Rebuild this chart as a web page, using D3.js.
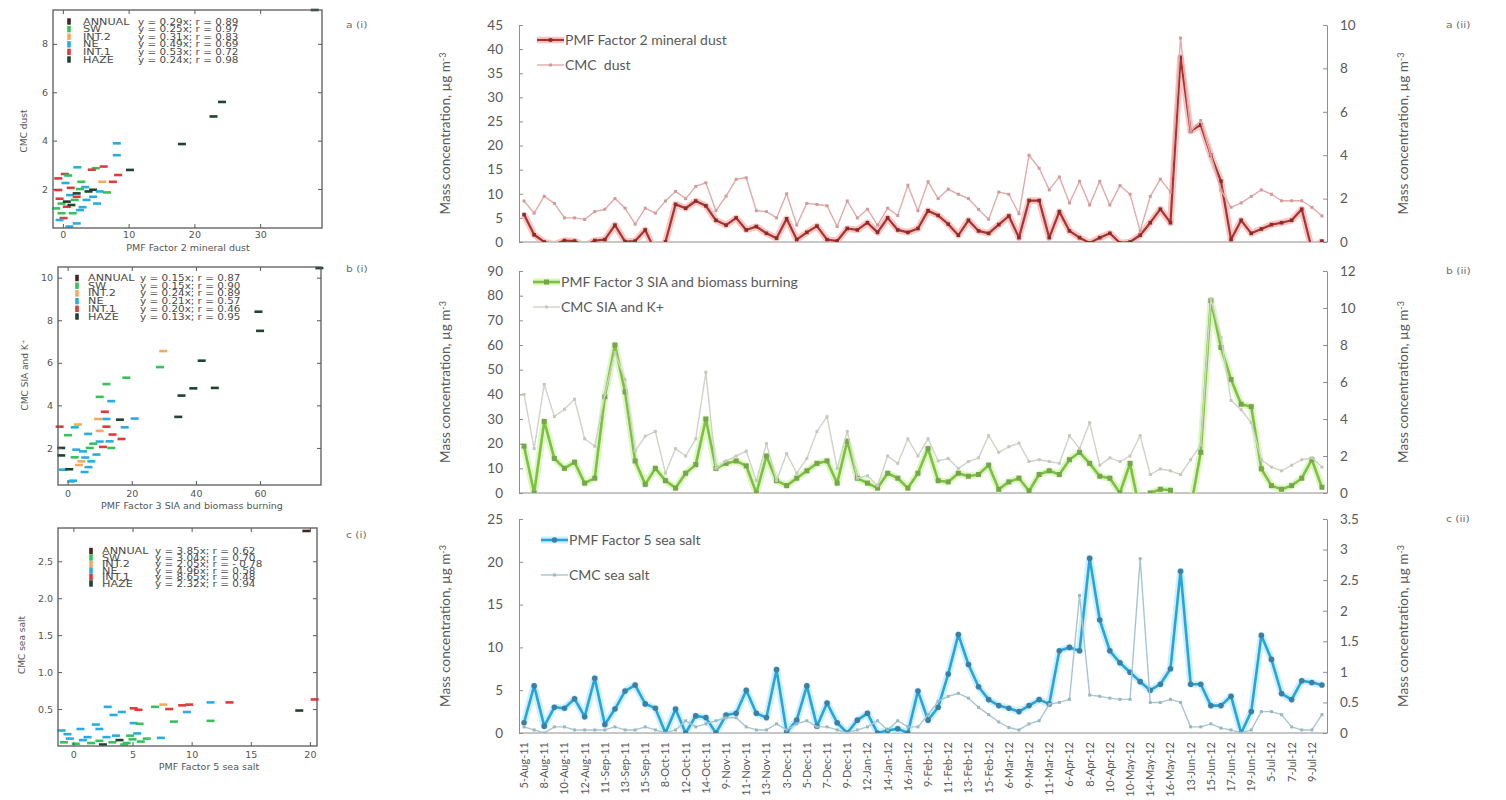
<!DOCTYPE html>
<html>
<head>
<meta charset="utf-8">
<title>PMF factors and CMC components</title>
<script src="https://cdn.jsdelivr.net/npm/d3@7/dist/d3.min.js"></script>
<style>
  html, body { margin: 0; padding: 0; background: #ffffff; }
  svg { display: block; }
</style>
</head>
<body>
<svg id="chart" width="1506" height="800"></svg>
<script>
// ---------- category axis: every second sample carries a date label ----------
const sampleLabels = ["5-Aug-11","8-Aug-11","10-Aug-11","12-Aug-11","11-Sep-11","13-Sep-11","15-Sep-11",
  "8-Oct-11","12-Oct-11","14-Oct-11","9-Nov-11","11-Nov-11","13-Nov-11","3-Dec-11","5-Dec-11","7-Dec-11",
  "9-Dec-11","12-Jan-12","14-Jan-12","16-Jan-12","9-Feb-12","11-Feb-12","13-Feb-12","15-Feb-12","6-Mar-12",
  "9-Mar-12","11-Mar-12","6-Apr-12","8-Apr-12","10-Apr-12","10-May-12","14-May-12","16-May-12","13-Jun-12",
  "15-Jun-12","17-Jun-12","19-Jun-12","5-Jul-12","7-Jul-12","9-Jul-12"];

// ---------- time series (PMF on left axis, CMC on right axis), µg m-3 ----------
const dustPMF = [5.7,1.5,0,-0.5,0.3,0.2,-0.8,0.3,0.5,3.5, 0.1,0.2,2.5,-2,0,7.8,7,8.5,7.5,4.5,
  3.5,5,2.5,3.2,1.8,0.8,4.8,0.5,2,3.3, 0.5,0.2,2.8,2.5,4,2,5,2.5,2,2.8, 6.5,5.5,3.7,1.4,
  4.5,2.3,1.8,3.6,5.4,0.9,8.6,8.6,0.9,6.3, 2.3,0.9,-0.2,0.9,1.8,-0.2,0,1.4,4,6.8,
  4,38.3,23,24.3,18,12.6,0.5,4.5,1.8,2.7, 3.6,4,4.5,6.8,-1.5,0.2];
const dustCMC = [1.89,1.33,2.11,1.78,1.11,1.11,1.04,1.4,1.51,2.0, 1.56,0.82,1.56,1.33,1.89,2.33,2.0,2.56,2.73,1.44,
  2.11,2.89,2.96,1.44,1.4,1.11,2.22,0.78,1.78,1.73, 1.67,0.71,1.89,1.11,1.51,0.78,1.56,1.22,2.62,1.44,
  2.78,2.0,2.44,2.2, 2.0,1.5,1.05,2.3,2.2,1.3,4.0,3.4,2.4,3.0, 1.8,2.8,1.7,2.8,1.7,2.6,2.2,0.5,2.1,2.9,
  2.3,9.4,5.1,5.6,4.0,2.4,1.6,1.8,2.1,2.4, 2.2,1.9,1.9,1.9,1.6,1.2];

const siaPMF = [19,0,29,14,10,12.5,4,6,39,60, 41,13,3.5,10,5,2,8,11.5,30,10, 12,13,11,0,15,5,3,6,9,12,
  13,4,21,6,4,2,8,6,2,8, 18,5,4.5,8, 6.8,7.5,11.3,1.5,4.5,6,0.8,7.5,9,7.5, 13.5,16.5,12,6.8,6,0,12,-8,0,1.5,
  1.1,-10,-6,16.5,78,59,46,36,35,9.8, 3,1.5,3,6,13.5,2.3];
const siaCMC = [5.33,2.4,5.87,4.13,4.53,5.07,2.93,2.53,5.33,7.6, 6.13,2.27,3.07,3.33,1.07,2.4,2.0,2.93,6.53,1.33,
  1.73,2.0,2.27,0.67,2.67,0.67,2.13,1.07,1.87,3.33, 4.13,1.33,3.33,0.8,0.93,0.4,2.0,1.6,2.93,2.0,
  2.93,1.73,1.87,1.33, 1.7,1.9,3.1,2.2,2.5,2.7,1.7,1.8,1.7,1.6, 3.1,2.4,3.8,1.5,1.9,1.7,2.0,3.1,1.0,1.3,
  1.2,1.0,1.8,2.6,10.5,8.4,5.0,4.5,3.8,1.8, 1.4,1.2,1.5,1.8,1.9,1.4];

const saltPMF = [1.2,5.5,0.8,3,2.9,4,1.9,6.4,1,2.8, 4.9,5.6,3.4,2.9,0,2.8,0,2,1.8,0,
  2.1,2.3,5,2.3,1.8,7.4,0.1,1.5,5.5,0.8, 3.5,1.2,0,1.5,2.3,0,0.3,0.5,0,4.9,
  1.5,3,6.9,11.5,8,5.4,3.9,3.2,2.9,2.5, 3.2,3.9,3.4,9.6,10,9.6,20.4,13.2,9.6,8.2,
  7.1,6,5,5.7,7.5,18.9,5.7,5.7,3.2,3.2, 4.3,0,2.5,11.4,8.6,4.6,3.9,6.1,5.9,5.6];
const saltCMC = [0.1,0.05,0.0,0.1,0.1,0.05,0.05,0.05,0.05,0.1, 0.05,0.05,0.1,0.05,0.0,0.05,0.2,0.1,0.15,0.2,
  0.25,0.25,0.1,0.05,0.05,0.15,0.05,0.15,0.2,0.1, 0.1,0.05,0.0,0.05,0.1,0.2,0.05,0.2,0.1,0.1,
  0.3,0.52,0.6,0.65,0.57,0.42,0.3,0.18,0.09,0.05, 0.15,0.2,0.47,0.5,0.55,2.25,0.62,0.6,0.57,0.55,
  0.55,2.85,0.5,0.5,0.55,0.5,0.1,0.1,0.15,0.08, 0.05,0.0,0.05,0.35,0.35,0.3,0.1,0.05,0.05,0.3];

// axis ticks of the time-series panels
const dustLeftTicks = [0,5,10,15,20,25,30,35,40,45];
const dustRightTicks = [0,2,4,6,8,10];
const siaLeftTicks = [0,10,20,30,40,50,60,70,80,90];
const siaRightTicks = [0,2,4,6,8,10,12];
const saltLeftTicks = [0,5,10,15,20,25];
const saltRightTicks = [0,0.5,1,1.5,2,2.5,3,3.5];

// ---------- scatter plots: [PMF factor, CMC component, period] ----------
const periods = ["ANNUAL","SW","INT.2","NE","INT.1","HAZE"];
const dustFits = ["y = 0.29x; r = 0.89","y = 0.25x; r = 0.97","y = 0.31x; r = 0.83",
  "y = 0.49x; r = 0.69","y = 0.53x; r = 0.72","y = 0.24x; r = 0.98"];
const siaFits = ["y = 0.15x; r = 0.87","y = 0.15x; r = 0.90","y = 0.24x; r = 0.89",
  "y = 0.21x; r = 0.57","y = 0.20x; r = 0.46","y = 0.13x; r = 0.95"];
const saltFits = ["y = 3.85x; r = 0.62","y = 3.04x; r = 0.70","y = 2.05x; r = - 0.78",
  "y = 4.96x; r = 0.58","y = 8.65x; r = 0.48","y = 2.32x; r = 0.94"];

const dustScatter = [[38.3,9.4,"HAZE"],[24.2,5.6,"HAZE"],[22.9,5.0,"HAZE"],[18.1,3.86,"HAZE"],[10.2,2.79,"HAZE"],
  [8.2,3.89,"NE"],[8.2,3.4,"NE"],[2.2,2.9,"NE"],[5.0,2.86,"SW"],[6.2,2.93,"INT.1"],[4.4,2.8,"INT.1"],
  [8.4,2.58,"INT.1"],[7.6,2.3,"INT.1"],[0.3,2.62,"INT.1"],[-0.7,2.44,"INT.1"],[0.4,2.25,"NE"],[0.8,2.56,"SW"],
  [2.8,2.3,"SW"],[3.4,2.08,"NE"],[3.9,1.9,"HAZE"],[4.6,1.97,"HAZE"],[5.6,1.9,"NE"],[6.7,1.86,"SW"],[6.0,2.3,"INT.2"],
  [2.1,1.68,"INT.1"],[3.6,1.55,"NE"],[4.6,1.68,"NE"],[-0.7,1.96,"INT.1"],[-0.5,1.6,"INT.1"],[-0.2,1.4,"SW"],
  [0.6,1.48,"HAZE"],[-1.0,1.2,"SW"],[0.6,1.27,"INT.1"],[2.6,1.13,"NE"],[-0.2,1.0,"SW"],[0.1,0.8,"INT.1"],
  [-0.5,0.72,"NE"],[1.3,1.34,"HAZE"],[1.8,1.55,"SW"],[1.1,1.75,"NE"],[2.1,0.58,"NE"],[2.1,1.82,"HAZE"],
  [1.0,0.45,"NE"],[3.0,1.25,"NE"],[1.5,1.0,"SW"],[5.2,1.4,"NE"],[2.6,2.0,"SW"],[1.2,2.05,"INT.1"]];

const siaScatter = [[78.5,10.45,"HAZE"],[59.5,8.4,"HAZE"],[60,7.5,"HAZE"],[29.8,6.55,"INT.2"],[41.8,6.1,"HAZE"],
  [28.8,5.8,"SW"],[45.9,4.82,"HAZE"],[39.2,4.8,"HAZE"],[35.5,4.46,"HAZE"],[34.5,3.46,"HAZE"],[18.3,5.3,"SW"],
  [12.1,5.0,"SW"],[10,4.4,"SW"],[13.6,4.2,"NE"],[11.6,3.7,"INT.1"],[9.5,3.36,"INT.2"],[12.1,3.36,"NE"],
  [16.3,3.33,"HAZE"],[20.9,3.38,"NE"],[-2.5,3.0,"INT.1"],[0.1,2.6,"SW"],[3.2,3.1,"INT.2"],[2.2,2.97,"NE"],
  [6.4,2.66,"NE"],[12.1,3.0,"INT.1"],[10,2.8,"INT.2"],[16.8,2.42,"INT.1"],[17.8,2.97,"NE"],[14,2.63,"INT.1"],
  [13.1,2.31,"NE"],[13.6,2.0,"SW"],[-2,2.0,"HAZE"],[-2,1.65,"HAZE"],[2.7,1.92,"NE"],[4.8,1.84,"NE"],
  [6.9,2.0,"SW"],[9,1.69,"NE"],[2.2,1.56,"SW"],[4.3,1.37,"INT.2"],[7.4,1.37,"NE"],[-1.5,0.98,"NE"],
  [5.3,0.87,"NE"],[1.1,0.43,"NE"],[1.7,0.46,"NE"],[10,2.3,"NE"],[8,2.2,"SW"],[5.5,1.55,"NE"],
  [3.5,1.2,"INT.2"],[0.5,1.0,"HAZE"],[6.5,1.1,"NE"],[11,2.05,"INT.1"]];

const saltScatter = [[19.7,2.91,"ANNUAL"],[20.4,0.63,"INT.1"],[19.1,0.48,"HAZE"],[13.2,0.59,"INT.1"],
  [11.6,0.59,"NE"],[11.6,0.34,"SW"],[9.2,0.55,"INT.1"],[9.8,0.56,"INT.1"],[9.6,0.46,"NE"],[8.1,0.5,"INT.1"],
  [8.5,0.33,"SW"],[7.6,0.56,"INT.2"],[6.9,0.53,"SW"],[5.1,0.51,"INT.1"],[5.5,0.49,"INT.1"],[5.1,0.31,"NE"],
  [5.6,0.3,"SW"],[5.4,0.17,"NE"],[4.1,0.46,"NE"],[2.9,0.53,"NE"],[3.4,0.42,"NE"],[1.9,0.29,"NE"],
  [2.2,0.23,"NE"],[0.6,0.23,"NE"],[-1.0,0.21,"NE"],[-0.5,0.16,"NE"],[7.4,0.11,"NE"],[6.2,0.1,"SW"],
  [-0.8,0.05,"SW"],[0.2,0.03,"SW"],[0.8,0.08,"NE"],[1.5,0.04,"SW"],[2.2,0.07,"SW"],[2.8,0.12,"NE"],
  [3.3,0.05,"SW"],[3.9,0.08,"HAZE"],[4.5,0.04,"SW"],[5.0,0.09,"SW"],[5.7,0.06,"SW"],[1.2,0.12,"NE"],
  [3.6,0.14,"NE"],[4.3,0.02,"SW"],[-0.3,0.1,"NE"],[2.5,0.02,"HAZE"],[4.8,0.14,"SW"]];

// ---------- styling ----------
const periodColor = { "ANNUAL": "#4a2222", "SW": "#36c25a", "INT.2": "#f4a860", "NE": "#27addf",
  "INT.1": "#e03a3a", "HAZE": "#1c4430" };
const tsFont = "Lato, 'Open Sans', sans-serif";
const scFont = "'DejaVu Sans', sans-serif";
const axisGrey = "#8e8e8e";
const textGrey = "#595959";

const svg = d3.select("#chart");
const defs = svg.append("defs");

// stretch a text element horizontally by a factor
function stretch(sel, f) {
  sel.each(function () {
    const w = this.getComputedTextLength();
    d3.select(this).attr("textLength", w * f).attr("lengthAdjust", "spacingAndGlyphs");
  });
}

// ---------- time-series panels ----------
const nSamples = dustPMF.length;
const x = d3.scaleBand().domain(d3.range(nSamples)).range([519, 1327]);
const cx = i => x(i) + x.bandwidth() / 2;

const panels = [
  { pmf: dustPMF, cmc: dustCMC, top: 25, base: 242, lt: dustLeftTicks, rt: dustRightTicks,
    pmfColor: "#a83330", glow: "#f4b4b0", pmfMark: "#8c2c2a", markShape: "rect", pmfSize: 3.6, pmfW: 2.2,
    cmcColor: "#e3aaaa", cmcMark: "#d49a9a",
    pmfName: "PMF Factor 2 mineral dust", cmcName: "CMC  dust", legX: 537, legY: [40, 65], tag: "a (ii)" },
  { pmf: siaPMF, cmc: siaCMC, top: 271, base: 493, lt: siaLeftTicks, rt: siaRightTicks,
    pmfColor: "#7cc23f", glow: "#d6f2b6", pmfMark: "#76a64c", markShape: "rect", pmfSize: 5, pmfW: 2.6,
    cmcColor: "#cfd3c8", cmcMark: "#c4c8bd",
    pmfName: "PMF Factor 3 SIA and biomass burning", cmcName: "CMC SIA and K+", legX: 533, legY: [282, 307], tag: "b (ii)" },
  { pmf: saltPMF, cmc: saltCMC, top: 519, base: 733, lt: saltLeftTicks, rt: saltRightTicks,
    pmfColor: "#24a6dc", glow: "#bfe9f8", pmfMark: "#3b7fa4", markShape: "circle", pmfSize: 5.6, pmfW: 2.6,
    cmcColor: "#a7c6cf", cmcMark: "#98b8c2",
    pmfName: "PMF Factor 5 sea salt", cmcName: "CMC sea salt", legX: 541, legY: [540, 575], tag: "c (ii)", labels: true }
];

function marker(sel, shape, size, color) {
  if (shape === "circle") {
    sel.append("circle").attr("r", size / 2).attr("fill", color);
  } else {
    sel.append("rect").attr("x", -size / 2).attr("y", -size / 2).attr("width", size).attr("height", size).attr("fill", color);
  }
}

panels.forEach((p, k) => {
  const yL = d3.scaleLinear().domain([0, d3.max(p.lt)]).range([p.base, p.top]);
  const yR = d3.scaleLinear().domain([0, d3.max(p.rt)]).range([p.base, p.top]);
  const g = svg.append("g");

  const clipId = "tsclip" + k;
  defs.append("clipPath").attr("id", clipId).append("rect")
    .attr("x", 510).attr("y", p.top - 15).attr("width", 826).attr("height", p.base - p.top + 15);

  // axes
  const fmt = d3.format("~g");
  const gl = g.append("g").attr("transform", "translate(519,0)")
    .call(d3.axisLeft(yL).tickValues(p.lt).tickSizeInner(-4).tickSizeOuter(0).tickPadding(16).tickFormat(fmt));
  const gr = g.append("g").attr("transform", "translate(1327,0)")
    .call(d3.axisRight(yR).tickValues(p.rt).tickSizeInner(-4).tickSizeOuter(0).tickPadding(13).tickFormat(fmt));
  [gl, gr].forEach(a => {
    a.select(".domain").attr("stroke", axisGrey);
    a.selectAll(".tick line").attr("stroke", axisGrey);
    a.selectAll(".tick text").attr("fill", textGrey).style("font-family", tsFont).style("font-size", "13.5px");
  });
  g.append("line").attr("x1", 519).attr("x2", 1327).attr("y1", p.base).attr("y2", p.base)
    .attr("stroke", axisGrey).attr("stroke-width", 1);

  // axis titles
  const mid = (p.top + p.base) / 2;
  [445, 1403].forEach(tx => {
    const t = g.append("text").attr("transform", `translate(${tx},${mid}) rotate(-90)`)
      .attr("text-anchor", "middle").attr("dy", "0.35em")
      .attr("fill", textGrey).style("font-family", tsFont).style("font-size", "13.5px");
    t.append("tspan").text("Mass concentration, \u00b5g m");
    t.append("tspan").attr("dy", "-0.45em").style("font-size", "9px").text("-3");
  });

  // series
  const plot = g.append("g").attr("clip-path", `url(#${clipId})`);
  const lineL = d3.line().x((d, i) => cx(i)).y(d => yL(d));
  const lineR = d3.line().x((d, i) => cx(i)).y(d => yR(d));

  // soft glow under the PMF line
  plot.append("path").datum(p.pmf).attr("d", lineL).attr("fill", "none")
    .attr("stroke", p.glow).attr("stroke-width", p.pmfW + 4.5).attr("stroke-linejoin", "round")
    .attr("stroke-opacity", 0.75);
  plot.append("path").datum(p.pmf).attr("d", lineL).attr("fill", "none")
    .attr("stroke", p.pmfColor).attr("stroke-width", p.pmfW).attr("stroke-linejoin", "round");
  plot.selectAll("g.pmf").data(p.pmf).join("g").attr("class", "pmf")
    .attr("transform", (d, i) => `translate(${cx(i)},${yL(d)})`)
    .each(function () { marker(d3.select(this), p.markShape, p.pmfSize, p.pmfMark); });

  plot.append("path").datum(p.cmc).attr("d", lineR).attr("fill", "none")
    .attr("stroke", p.cmcColor).attr("stroke-width", 1.4).attr("stroke-linejoin", "round");
  plot.selectAll("rect.cmc").data(p.cmc).join("rect").attr("class", "cmc")
    .attr("x", (d, i) => cx(i) - 1.5).attr("y", d => yR(d) - 1.5)
    .attr("width", 3).attr("height", 3).attr("fill", p.cmcMark);

  // legend
  const leg = [
    { name: p.pmfName, color: p.pmfColor, glow: p.glow, mark: p.pmfMark, shape: p.markShape, w: p.pmfW, s: p.pmfSize, y: p.legY[0] },
    { name: p.cmcName, color: p.cmcColor, glow: null, mark: p.cmcMark, shape: "rect", w: 1.4, s: 3, y: p.legY[1] }
  ];
  leg.forEach(l => {
    if (l.glow) {
      g.append("line").attr("x1", p.legX).attr("x2", p.legX + 27).attr("y1", l.y).attr("y2", l.y)
        .attr("stroke", l.glow).attr("stroke-width", l.w + 4.5).attr("stroke-opacity", 0.75);
    }
    g.append("line").attr("x1", p.legX).attr("x2", p.legX + 27).attr("y1", l.y).attr("y2", l.y)
      .attr("stroke", l.color).attr("stroke-width", l.w);
    marker(g.append("g").attr("transform", `translate(${p.legX + 13.5},${l.y})`), l.shape, l.s, l.mark);
    g.append("text").attr("x", p.legX + 28).attr("y", l.y).attr("dy", "0.35em")
      .attr("fill", textGrey).style("font-family", tsFont).style("font-size", "14px")
      .style("white-space", "pre").attr("xml:space", "preserve").text(l.name);
  });

  // panel tag
  const tag = g.append("text").attr("x", 1446).attr("y", p.top + 3).attr("fill", "#6f6f6f")
    .style("font-family", scFont).style("font-size", "8px").text(p.tag);
  stretch(tag, 1.35);

  // date labels under the bottom panel
  if (p.labels) {
    const ticks = d3.range(0, nSamples, 2);
    g.selectAll("text.date").data(ticks).join("text").attr("class", "date")
      .attr("transform", i => `translate(${cx(i)},${p.base + 9}) rotate(-90)`)
      .attr("text-anchor", "end").attr("dy", "0.35em")
      .attr("fill", textGrey).style("font-family", tsFont).style("font-size", "11px")
      .text(i => sampleLabels[i / 2]);
  }
});

// ---------- scatter panels ----------
const scatters = [
  { pts: dustScatter, fits: dustFits, left: 53, right: 322, top: 10, bottom: 228,
    xd: [-1.5, 39.4], yd: [0.39, 9.4], xt: [0, 10, 20, 30], yt: [2, 4, 6, 8], yfmt: d3.format("d"),
    xTitle: "PMF Factor 2 mineral dust", xTitleY: 251, xTitleX: 188,
    yTitle: "CMC dust", yTitleX: 24, yTitleY: 131,
    leg: { mx: 69, nx: 83, ex: 138, y0: 21.5, dy: 7.6 }, tag: "a (i)", tagY: 28, xPad: 3 },
  { pts: siaScatter, fits: siaFits, left: 58, right: 321, top: 267, bottom: 485,
    xd: [-3, 79], yd: [0.26, 10.5], xt: [0, 20, 40, 60], yt: [2, 4, 6, 8, 10], yfmt: d3.format("d"),
    xTitle: "PMF Factor 3 SIA and biomass burning", xTitleY: 509, xTitleX: 192,
    yTitle: "CMC SIA and K\u207a", yTitleX: 25, yTitleY: 375,
    leg: { mx: 77, nx: 88, ex: 140, y0: 278, dy: 7.7 }, tag: "b (i)", tagY: 272, xPad: 5 },
  { pts: saltScatter, fits: saltFits, left: 58, right: 317, top: 528, bottom: 746,
    xd: [-1.3, 20.6], yd: [0, 2.95], xt: [0, 5, 10, 15, 20], yt: [0.5, 1.0, 1.5, 2.0, 2.5], yfmt: d3.format(".1f"),
    xTitle: "PMF Factor 5 sea salt", xTitleY: 770, xTitleX: 209,
    yTitle: "CMC sea salt", yTitleX: 22, yTitleY: 645,
    leg: { mx: 91, nx: 102, ex: 155, y0: 551, dy: 6.5 }, tag: "c (i)", tagY: 538, xPad: 5 }
];

scatters.forEach((s, k) => {
  const xs = d3.scaleLinear().domain(s.xd).range([s.left, s.right]);
  const ys = d3.scaleLinear().domain(s.yd).range([s.bottom, s.top]);
  const g = svg.append("g");

  // data marks
  g.selectAll("rect.pt").data(s.pts).join("rect").attr("class", "pt")
    .attr("x", d => xs(d[0]) - 4).attr("y", d => ys(d[1]) - 1.3)
    .attr("width", 8).attr("height", 2.6).attr("fill", d => periodColor[d[2]]);

  // frame and ticks on all four sides
  g.append("rect").attr("x", s.left).attr("y", s.top).attr("width", s.right - s.left)
    .attr("height", s.bottom - s.top).attr("fill", "none").attr("stroke", "#5a5a5a").attr("stroke-width", 1.3);
  const axes = [
    g.append("g").attr("transform", `translate(0,${s.bottom})`)
      .call(d3.axisBottom(xs).tickValues(s.xt).tickSizeInner(-4).tickSizeOuter(0).tickPadding(s.xPad).tickFormat(d3.format("d"))),
    g.append("g").attr("transform", `translate(0,${s.top})`)
      .call(d3.axisTop(xs).tickValues(s.xt).tickSizeInner(-4).tickSizeOuter(0).tickFormat("")),
    g.append("g").attr("transform", `translate(${s.left},0)`)
      .call(d3.axisLeft(ys).tickValues(s.yt).tickSizeInner(-4).tickSizeOuter(0).tickPadding(5).tickFormat(s.yfmt)),
    g.append("g").attr("transform", `translate(${s.right},0)`)
      .call(d3.axisRight(ys).tickValues(s.yt).tickSizeInner(-4).tickSizeOuter(0).tickFormat(""))
  ];
  axes.forEach(a => {
    a.select(".domain").remove();
    a.selectAll(".tick line").attr("stroke", "#5a5a5a");
    a.selectAll(".tick text").attr("fill", "#555").style("font-family", scFont).style("font-size", "9.5px");
  });

  // axis titles
  g.append("text").attr("x", s.xTitleX).attr("y", s.xTitleY).attr("text-anchor", "middle")
    .attr("fill", "#555").style("font-family", scFont).style("font-size", "9.5px").text(s.xTitle);
  g.append("text").attr("transform", `translate(${s.yTitleX},${s.yTitleY}) rotate(-90)`)
    .attr("text-anchor", "middle").attr("dy", "0.35em")
    .attr("fill", "#555").style("font-family", scFont).style("font-size", "9px").text(s.yTitle);

  // legend: period marker, name and fitted relation
  periods.forEach((name, j) => {
    const cy = s.leg.y0 + j * s.leg.dy;
    g.append("rect").attr("x", s.leg.mx - 1.8).attr("y", cy - 3.2).attr("width", 3.6).attr("height", 6.4)
      .attr("fill", periodColor[name]);
    const tn = g.append("text").attr("x", s.leg.nx).attr("y", cy + 3).attr("fill", "#4a4a4a")
      .style("font-family", scFont).style("font-size", "8px").text(name);
    const te = g.append("text").attr("x", s.leg.ex).attr("y", cy + 3).attr("fill", "#4a4a4a")
      .style("font-family", scFont).style("font-size", "8px").text(s.fits[j]);
    stretch(tn, 1.4);
    stretch(te, 1.3);
  });

  const tag = g.append("text").attr("x", 346).attr("y", s.tagY).attr("fill", "#6f6f6f")
    .style("font-family", scFont).style("font-size", "8px").text(s.tag);
  stretch(tag, 1.35);
});
</script>
</body>
</html>
